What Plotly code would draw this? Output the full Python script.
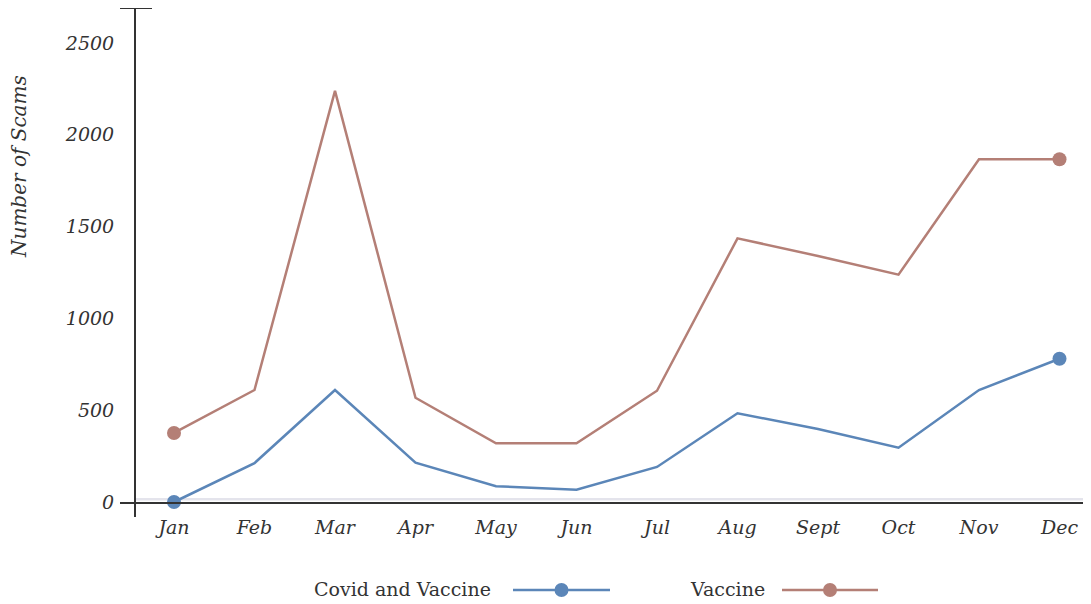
import plotly.graph_objects as go

months = ["Jan", "Feb", "Mar", "Apr", "May", "Jun", "Jul", "Aug", "Sept", "Oct", "Nov", "Dec"]
covid_and_vaccine = [0, 212, 610, 214, 86, 67, 191, 483, 398, 296, 610, 780]
vaccine = [376, 610, 2239, 568, 320, 320, 606, 1436, 1340, 1238, 1867, 1867]
y_ticks = [0, 500, 1000, 1500, 2000, 2500]
series_names = ["Covid and Vaccine", "Vaccine"]

BLUE = "#5b86b8"
RED = "#b47f76"
AXIS = "#333333"
FONT = "Georgia, 'DejaVu Serif', serif"

# page offset of the default body margin
OFF = 8
W, H = 1091 - OFF, 604 - OFF
L, R, T, B = 136 - OFF, 0, 0, 87
pw, ph = W - L - R, H - T - B


def px_x(p):
    # p is in page pixels
    return (p - OFF - L) / pw


def px_y(p):
    return (H - B - (p - OFF)) / ph


fig = go.Figure()
for name, vals, col in [(series_names[0], covid_and_vaccine, BLUE), (series_names[1], vaccine, RED)]:
    fig.add_trace(go.Scatter(
        x=months, y=vals, name=name, mode="lines",
        line=dict(color=col, width=2.5),
        showlegend=False, hoverinfo="x+y+name",
    ))
    fig.add_trace(go.Scatter(
        x=[months[0], months[-1]], y=[vals[0], vals[-1]], name=name, mode="markers",
        marker=dict(color=col, size=14, opacity=1, line=dict(width=0)),
        showlegend=False, hoverinfo="x+y+name",
    ))

shapes = [
    # zero grid band (faint line just above the axis)
    dict(type="line", xref="paper", yref="paper", x0=0, x1=1, y0=px_y(499.3), y1=px_y(499.3),
         line=dict(color="#e4e4ec", width=2.5), layer="below"),
    # x axis domain line
    dict(type="line", xref="paper", yref="paper", x0=px_x(120), x1=1, y0=px_y(503), y1=px_y(503),
         line=dict(color=AXIS, width=2)),
    # top outer tick of y axis
    dict(type="line", xref="paper", yref="paper", x0=px_x(120), x1=px_x(152), y0=1, y1=1,
         line=dict(color=AXIS, width=2)),
]

annotations = [
    dict(text="Number of Scams", xref="paper", yref="paper", x=px_x(19), y=px_y(167),
         textangle=-90, showarrow=False, xanchor="center", yanchor="middle",
         font=dict(family=FONT, size=20, color=AXIS, style="italic")),
]

# manual legend: text then line-marker symbol
legend_items = [
    (series_names[0], BLUE, 493, 513, 610),
    (series_names[1], RED, 767, 782, 878),
]
for name, col, text_right, lx0, lx1 in legend_items:
    annotations.append(dict(text=name, xref="paper", yref="paper", x=px_x(text_right), y=px_y(589),
                            xanchor="right", yanchor="middle", showarrow=False,
                            font=dict(family=FONT, size=19, color=AXIS)))
    shapes.append(dict(type="line", xref="paper", yref="paper", x0=px_x(lx0), x1=px_x(lx1),
                       y0=px_y(590), y1=px_y(590), line=dict(color=col, width=2.5)))
    cx = (lx0 + lx1) / 2
    shapes.append(dict(type="circle", xref="paper", yref="paper", xsizemode="pixel", ysizemode="pixel",
                       xanchor=px_x(cx), yanchor=px_y(590), x0=-7, x1=7, y0=-7, y1=7,
                       fillcolor=col, line=dict(width=0)))

fig.update_layout(
    width=W, height=H,
    margin=dict(l=L, r=R, t=T, b=B, pad=0),
    paper_bgcolor="white", plot_bgcolor="white",
    font=dict(family=FONT, color=AXIS),
    shapes=shapes, annotations=annotations,
    showlegend=False,
    xaxis=dict(
        type="category", categoryorder="array", categoryarray=months,
        range=[(136 - 174) / 80.5, (1091 - 174) / 80.5],
        showgrid=False, zeroline=False, showline=False, ticks="",
        tickfont=dict(family=FONT, size=19, color=AXIS, style="italic"),
        ticklabelstandoff=-3, fixedrange=True,
    ),
    yaxis=dict(
        range=[(502 - 517) / 0.1836, (502 - 8) / 0.1836],
        tickvals=y_ticks, ticktext=[str(v) for v in y_ticks],
        showgrid=False, zeroline=False,
        showline=True, linecolor=AXIS, linewidth=2, ticks="",
        tickfont=dict(family=FONT, size=19, color=AXIS, style="italic"),
        ticklabelstandoff=16, fixedrange=True,
    ),
)

fig.write_html("out.html")
